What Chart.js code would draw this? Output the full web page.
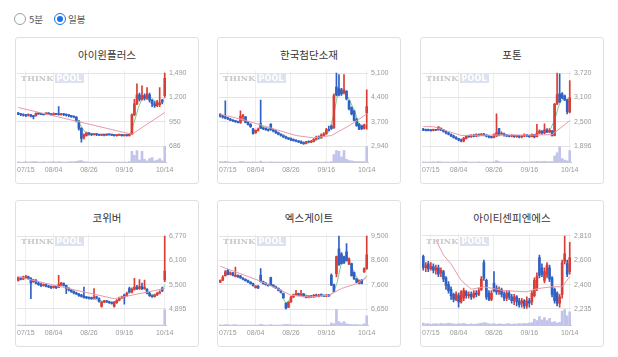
<!DOCTYPE html>
<html><head><meta charset="utf-8">
<script src="https://cdn.jsdelivr.net/npm/chart.js@4.4.1/dist/chart.umd.min.js"></script>
<style>
html,body{margin:0;padding:0;background:#fff;width:618px;height:357px;overflow:hidden;font-family:"Noto Sans CJK KR","Noto Sans",sans-serif;}
.radio{position:absolute;top:13px;width:12px;height:12px;box-sizing:border-box;border-radius:50%;border:1px solid #a0a0a0;background:#fff;}
.radio.on{border-color:#1a73e8;}
.radio.on::after{content:"";position:absolute;left:2px;top:2px;width:6px;height:6px;border-radius:50%;background:#1a73e8;}
.rlabel{position:absolute;top:12px;font-size:9.5px;color:#555;line-height:14px;}
.card{position:absolute;width:184px;height:147px;box-sizing:border-box;border:1px solid #e0e0e0;border-radius:3px;background:#fff;}
.title{position:absolute;left:0;right:0;top:10px;text-align:center;font-size:10.5px;color:#333;line-height:14px;}
.wm{position:absolute;left:5px;top:36px;font:bold 8px "DejaVu Serif",serif;letter-spacing:0.2px;line-height:9px;pointer-events:none;}
.wm .a{color:#c8c8c8}
.wm .b{color:#fff;background:#dce3ee;padding:0 2px;margin-left:1px;font-family:"DejaVu Sans",sans-serif}
.cv{position:absolute;left:0;top:30px;}
</style></head><body>
<div class="radio" style="left:14px"></div><div class="rlabel" style="left:29px">5분</div>
<div class="radio on" style="left:54px"></div><div class="rlabel" style="left:68px">일봉</div>
<div id="wrap"></div>
<script>
// ---- data ----
const titles = ['아이윈플러스','한국첨단소재','포톤','코위버','엑스게이트','아이티센피엔에스'];
const xTickLabels = ['07/15','08/04','08/26','09/16','10/14'];
const xTickIndex = [3,14,28,42,58];
const N = 59;

// rows: [open, close, high, low]
const c1Ohlc = [[1050,1035,1055,1030],[1040,1030,1045,1020],[1035,1025,1040,1015],[1030,1020,1035,1010],[1025,1030,1040,1015],[1030,1015,1035,1005],[1015,1010,1025,985],[1020,1045,1050,1015],[1045,1040,1055,1035],[1040,1035,1045,1030],
[1035,1030,1040,1025],[1040,1045,1050,1035],[1045,1040,1050,1030],[1040,1030,1045,1025],[1030,1040,1050,1025],[1040,1035,1045,1030],[1040,1030,1120,1025],[1030,1040,1045,1025],[1040,1030,1045,1020],[1030,1025,1040,1015],
[1025,1020,1030,1005],[1020,1010,1025,1000],[1010,1005,1015,995],[1005,960,1010,950],[960,880,965,860],[880,770,890,728],[780,810,820,760],[800,830,840,795],[830,815,835,805],[815,810,825,800],
[810,820,825,805],[820,810,825,800],[810,805,815,800],[805,810,815,800],[810,805,815,798],[805,815,820,800],[815,810,820,805],[810,805,815,800],[805,800,810,795],[800,805,810,795],
[805,810,815,800],[810,800,815,795],[800,805,810,795],[805,800,810,795],[800,815,825,795],[815,1030,1040,810],[1030,1150,1200,1020],[1150,1250,1370,1140],[1250,1200,1270,1180],[1200,1240,1350,1190],
[1240,1210,1260,1190],[1210,1260,1330,1200],[1250,1190,1270,1170],[1190,1150,1200,1120],[1150,1130,1180,1110],[1130,1170,1190,1120],[1140,1160,1330,1120],[1190,1170,1200,1150],[1240,1430,1490,1220]];
const c1Vol = [4,3,3,5,3,4,6,5,3,3,4,3,3,4,5,3,6,4,3,3,4,5,4,8,10,12,6,4,3,3,3,2,3,2,3,3,2,3,2,3,3,2,3,3,5,70,45,75,15,70,20,10,25,30,10,15,25,10,100];
const c1Ma = [[0,1110],[45,815],[58,1055]];
const c1Ma5 = [[21,1015],[23,995],[25,900],[27,830],[30,815],[35,810],[40,806],[44,808],[46,960],[48,1140],[50,1220],[52,1230],[54,1180],[56,1150],[58,1220]];
const c1Ticks = ['1,490','1,200','950','686'];

const c2Ohlc = [[3880,3820,3900,3790],[3830,3790,3850,3760],[3800,3760,4280,3740],[3770,3740,3790,3720],[3740,3700,3760,3690],[3710,3680,3720,3660],[3690,3660,3700,3640],[3660,3640,3680,3620],[3630,3820,3980,3610],[3810,3840,3880,3700],
[3800,3640,3810,3620],[3640,3580,3660,3560],[3580,3510,3600,3490],[3450,3310,3460,3290],[3330,3400,3420,3320],[3400,3440,3470,3380],[3600,3470,4300,3450],[3470,3450,3500,3420],[3460,3420,3480,3400],[3430,3400,3450,3380],
[3580,3420,3600,3400],[3420,3380,3440,3360],[3380,3330,3400,3310],[3340,3290,3350,3270],[3290,3250,3300,3230],[3250,3210,3270,3190],[3220,3170,3230,3150],[3180,3150,3200,3130],[3160,3120,3180,3100],[3130,3100,3150,3080],
[3110,3080,3130,3060],[3080,3060,3100,3040],[3070,3030,3090,3010],[3040,3010,3060,2990],[3020,3060,3080,3000],[3060,3050,3090,3030],[3050,3080,3110,3040],[3070,3140,3160,3060],[3140,3200,3230,3120],[3200,3180,3240,3160],
[3180,3260,3300,3170],[3250,3300,3340,3230],[3300,3420,3460,3290],[3420,3400,3530,3380],[3530,3450,3570,3430],[3480,4430,4480,3460],[4680,4450,5100,4420],[4640,4450,5050,4420],[4600,4480,4650,4440],[4500,4600,5050,4480],
[4560,4330,4580,4300],[4280,4040,4300,4010],[4080,3890,4100,3860],[3980,3700,4000,3680],[3740,3540,3760,3520],[3590,3440,3610,3420],[3540,3450,3560,3420],[3460,3560,3590,3440],[3920,4110,4600,3440]];
const c2Vol = [5,4,8,4,3,3,3,3,6,5,3,3,3,4,3,3,9,3,3,3,4,3,3,2,2,2,2,2,2,2,2,2,2,2,3,2,2,3,3,2,3,3,4,3,5,50,75,70,35,75,20,12,10,8,6,5,5,6,100];
const c2Ma = [[0,3880],[10,3700],[21,3450],[30,3250],[37,3180],[44,3250],[51,3540],[58,3890]];
const c2Ma5 = [[16,3520],[20,3450],[24,3290],[28,3150],[33,3040],[37,3080],[41,3230],[43,3390],[45,3900],[47,4530],[50,4450],[53,4000],[56,3490],[58,3600]];
const c2Ticks = ['5,100','4,400','3,700','2,940'];

const c3Ohlc = [[2320,2290,2340,2280],[2300,2280,2320,2270],[2310,2285,2320,2270],[2290,2280,2305,2265],[2285,2300,2320,2275],[2300,2290,2310,2280],[2300,2370,2380,2290],[2340,2300,2350,2280],[2300,2260,2310,2240],[2260,2220,2270,2200],
[2220,2190,2240,2170],[2190,2150,2200,2130],[2150,2110,2170,2090],[2110,2080,2130,2060],[2080,2050,2090,2020],[2050,2020,2070,1995],[2020,2090,2110,2000],[2080,2150,2160,2070],[2150,2130,2170,2110],[2130,2160,2180,2110],
[2160,2140,2190,2120],[2140,2180,2200,2130],[2180,2160,2200,2140],[2160,2190,2210,2150],[2190,2170,2210,2150],[2170,2140,2180,2120],[2140,2120,2160,2100],[2120,2110,2130,2090],[2110,2180,2200,2100],[2150,2230,2700,2130],
[2330,2170,2340,2150],[2190,2210,2250,2170],[2200,2160,2220,2140],[2160,2150,2180,2130],[2150,2140,2170,2120],[2140,2160,2180,2120],[2160,2130,2170,2110],[2130,2150,2170,2110],[2150,2120,2160,2100],[2120,2140,2160,2100],
[2140,2170,2200,2130],[2170,2150,2190,2130],[2150,2130,2170,2110],[2130,2180,2200,2120],[2180,2120,2190,2100],[2130,2220,2440,2120],[2220,2270,2300,2200],[2270,2220,2280,2190],[2220,2300,2450,2200],[2300,2250,2330,2230],
[2250,2290,2330,2230],[2270,2160,2290,2140],[2160,2940,2960,2150],[2950,3180,3720,2930],[3200,3000,3700,2980],[3200,3100,3230,3080],[3150,3050,3170,3030],[3050,2750,3070,2700],[2750,3100,3530,2720]];
const c3Vol = [4,3,3,3,4,3,6,4,3,3,3,3,3,3,3,4,5,5,3,3,3,3,4,3,3,3,3,3,4,12,6,3,3,3,3,3,3,3,3,3,4,3,3,5,4,8,6,5,8,5,6,5,40,60,100,25,15,10,75];
const c3Ma = [[0,2380],[4,2380],[15,2160],[30,2170],[45,2170],[51,2180],[58,2530]];
const c3Ma5 = [[50,2270],[52,2550],[54,2950],[56,3080],[58,2980]];
const c3Ticks = ['3,720','3,100','2,500','1,896'];

const c4Ohlc = [[5630,5700,5720,5610],[5690,5660,5720,5640],[5660,5700,5740,5650],[5700,5720,5760,5690],[5720,5680,5740,5660],[5680,5560,5700,5160],[5600,5640,5660,5580],[5640,5560,5650,5540],[5560,5520,5580,5500],[5530,5500,5560,5470],
[5500,5520,5540,5480],[5520,5480,5530,5460],[5480,5460,5500,5440],[5470,5440,5490,5420],[5450,5470,5490,5430],[5470,5440,5480,5420],[5450,5520,5760,5440],[5510,5560,5580,5500],[5550,5500,5570,5480],[5500,5420,5510,5290],
[5430,5380,5440,5360],[5380,5340,5400,5320],[5340,5300,5360,5280],[5310,5280,5330,5260],[5280,5240,5300,5220],[5250,5220,5270,5200],[5230,5190,5460,5170],[5200,5180,5220,5160],[5190,5170,5210,5150],[5180,5160,5200,5140],
[5170,5200,5420,5150],[5200,5180,5230,5160],[5160,5090,5180,5070],[4960,5070,5090,4940],[5080,5100,5120,5060],[5100,5080,5120,5060],[5080,5060,5100,5040],[5060,5040,5080,5020],[4960,5070,5090,4940],[5060,5120,5140,5040],
[5120,5180,5200,5100],[5180,5200,5230,5160],[5250,5200,5280,5020],[5240,5300,5330,5220],[5420,5330,5460,5300],[5330,5400,5440,5310],[5400,5460,5680,5380],[5460,5420,5500,5390],[5420,5470,5650,5400],[5470,5420,5560,5390],
[5420,5450,5640,5400],[5400,5300,5420,5280],[5300,5240,5320,5220],[5240,5210,5260,5190],[5210,5260,5280,5200],[5260,5300,5320,5240],[5300,5330,5360,5280],[5420,5360,5460,5340],[5640,5870,6770,5600]];
const c4Vol = [2,2,2,2,2,3,2,2,2,2,2,2,2,2,2,3,2,2,3,2,2,2,2,2,2,2,3,2,2,2,3,2,2,2,2,2,2,2,3,2,2,3,2,2,3,2,3,2,3,2,3,2,2,2,2,2,3,2,100];
const c4Ma = [[0,5720],[20,5420],[38,5160],[45,5250],[51,5330],[58,5420]];
const c4Ma5 = [[21,5340],[25,5230],[29,5170],[33,5100],[37,5060],[41,5170],[45,5370],[49,5440],[53,5260],[56,5300],[58,5500]];
const c4Ticks = ['6,770','6,100','5,500','4,895'];

const c5Ohlc = [[7700,7770,7790,7680],[7780,7900,7950,7760],[7950,8100,8150,7930],[8160,8000,8200,7980],[8000,8060,8100,7980],[8050,7960,8080,7940],[7920,7960,8290,7900],[7960,7900,7980,7880],[7940,7860,7960,7840],[7860,7810,7880,7790],
[7810,7760,7830,7740],[7760,7700,7780,7680],[7700,7640,7720,7620],[7640,7560,7660,7540],[7480,7540,7560,7460],[7540,7470,7560,7440],[7960,7720,8230,7700],[7720,7640,7740,7620],[7650,7600,7680,7580],[7600,7560,7620,7540],
[7880,7580,7900,7560],[7580,7520,7600,7500],[7520,7460,7540,7440],[7460,7380,7480,7360],[7380,7300,7400,7280],[7250,7080,7270,7060],[6880,6680,6900,6650],[6720,6920,6940,6700],[6930,7120,7150,6910],[7120,7200,7230,7090],
[7200,7250,7380,7180],[7250,7180,7270,7160],[7180,7240,7380,7160],[7240,7150,7260,7120],[7150,7100,7170,7080],[7100,7150,7170,7080],[7150,7120,7180,7100],[7120,7180,7220,7100],[7180,7140,7230,7120],[7140,7200,7220,7120],
[7200,7170,7240,7150],[7170,7150,7190,7130],[7150,7190,7210,7130],[7190,7160,7220,7140],[7960,7580,8020,7560],[7600,7340,7620,7320],[8030,8700,8720,7900],[9000,8380,9500,8350],[8800,8420,8850,8400],[8700,8450,8720,8430],
[8880,8540,9200,8520],[8400,8600,8650,8380],[8420,7950,8440,7930],[8080,7820,8100,7800],[7820,7700,7850,7680],[7650,7760,7780,7630],[7780,7650,7800,7630],[8100,8230,8260,8080],[8230,8760,9500,8200]];
const c5Vol = [4,3,5,6,3,4,5,3,3,3,3,3,3,3,3,3,8,4,3,3,6,3,3,3,3,5,8,5,4,3,4,3,4,3,3,3,3,3,3,3,3,3,3,3,15,10,100,25,15,25,10,8,6,5,5,4,4,10,60];
const c5Ma = [[0,8320],[15,7770],[24,7380],[28,7190],[35,7120],[43,7190],[48,7450],[54,7640],[58,7900]];
const c5Ma5 = [[21,7580],[24,7320],[26,6900],[29,7150],[32,7250],[36,7140],[40,7170],[43,7180],[46,7600],[48,8420],[50,8600],[52,8300],[54,7900],[56,7730],[58,7950]];
const c5Ticks = ['9,500','8,600','7,600','6,650'];

const c6Ohlc = [[2650,2560,2660,2540],[2560,2580,2600,2530],[2590,2550,2610,2530],[2550,2570,2600,2540],[2570,2540,2590,2520],[2540,2560,2580,2510],[2560,2510,2580,2490],[2520,2540,2560,2490],[2530,2470,2540,2450],[2480,2420,2490,2390],
[2430,2380,2450,2360],[2390,2340,2410,2310],[2350,2310,2360,2290],[2310,2350,2370,2300],[2340,2290,2360,2250],[2290,2370,2380,2280],[2320,2380,2400,2300],[2370,2340,2380,2320],[2340,2350,2370,2320],[2350,2330,2370,2310],
[2330,2360,2380,2320],[2360,2350,2380,2330],[2350,2380,2400,2340],[2390,2470,2490,2380],[2600,2480,2620,2460],[2460,2330,2470,2310],[2360,2310,2380,2300],[2310,2360,2380,2300],[2440,2380,2530,2370],[2400,2370,2420,2350],
[2370,2390,2410,2350],[2390,2350,2400,2330],[2350,2320,2370,2300],[2320,2360,2380,2300],[2360,2330,2380,2310],[2330,2300,2350,2280],[2300,2330,2350,2270],[2330,2290,2340,2260],[2300,2270,2320,2250],[2280,2300,2320,2250],
[2300,2260,2310,2240],[2260,2300,2330,2240],[2300,2280,2320,2250],[2290,2360,2380,2270],[2340,2460,2480,2330],[2400,2490,2520,2380],[2640,2500,2660,2480],[2560,2510,2590,2490],[2460,2530,2560,2440],[2500,2580,2600,2480],
[2560,2470,2580,2450],[2480,2350,2490,2330],[2390,2300,2400,2280],[2360,2280,2370,2260],[2280,2330,2350,2250],[2350,2600,2620,2320],[2610,2670,2810,2590],[2590,2510,2620,2490],[2530,2640,2760,2510]];
const c6Vol = [15,10,12,8,10,12,9,14,10,12,15,12,10,8,12,10,14,9,8,10,8,9,12,14,18,15,10,9,12,8,10,9,8,10,12,8,10,9,12,10,14,12,15,18,40,30,55,35,50,30,45,20,25,15,20,90,100,60,85];
const c6Ma = [[5,2780],[8,2660],[11,2590],[15,2460],[19,2390],[24,2410],[32,2380],[41,2370],[45,2395],[51,2410],[55,2410],[58,2490]];
const c6Ma5 = [];
const c6Ticks = ['2,810','2,600','2,400','2,235'];

// ---- layout (px) ----
const cardPos = [[15,37],[217,37],[420,37],[15,200],[217,200],[420,200]];
const RED = '#da3d35', BLUE = '#3060c4', PINK = '#e89aa6', GREEN = '#7cc88a', VOLC = '#c0c3ea';
const CW = 182, CH = 108, PAD_T = 3, PAD_B = 1.5, XAX_H = 12, YAX_W = 32;
const PLOT_H = CH - PAD_T - PAD_B - XAX_H;   // 91.5
const TOP_GAP = 2, PRICE_H = 73, VOL_H = 16;
const xLabels = Array.from({length: N}, (_, i) => { const k = xTickIndex.indexOf(i); return k >= 0 ? xTickLabels[k] : ''; });
const FONT = {size: 7, family: '"Liberation Sans", Arial, sans-serif'};

function sparse(pts) { const a = new Array(N).fill(null); pts.forEach(p => { a[p[0]] = p[1]; }); return a; }

function makeCard(k, ohlc, vol, ma, ma5, tickLabels) {
  if (ohlc.length !== N || vol.length !== N) throw new Error('length mismatch chart ' + (k+1) + ': ' + ohlc.length + '/' + vol.length);
  const card = document.createElement('div');
  card.className = 'card';
  card.style.left = cardPos[k][0] + 'px'; card.style.top = cardPos[k][1] + 'px';
  card.innerHTML = '<div class="title">' + titles[k] + '</div>';
  const cv = document.createElement('canvas');
  cv.className = 'cv'; cv.width = CW; cv.height = CH;
  card.appendChild(cv);
  const wm = document.createElement('div');
  wm.className = 'wm'; wm.innerHTML = '<span class="a">THINK</span><span class="b">POOL</span>';
  card.appendChild(wm);
  document.getElementById('wrap').appendChild(card);

  const top = parseFloat(tickLabels[0].replace(/,/g, ''));
  const bottom = parseFloat(tickLabels[3].replace(/,/g, ''));
  const unit = (top - bottom) / PRICE_H;
  const yMax = top + TOP_GAP * unit;
  const yMin = bottom - (PLOT_H - TOP_GAP - PRICE_H) * unit;
  const tickVals = [0, 1, 2, 3].map(j => bottom + j * (top - bottom) / 3);
  const labs = tickLabels.slice().reverse();
  const colors = ohlc.map(r => r[1] >= r[0] ? RED : BLUE);
  const maxV = Math.max.apply(null, vol);

  new Chart(cv, {
    data: {
      labels: xLabels,
      datasets: [
        {type: 'line', data: sparse(ma), borderColor: PINK, borderWidth: 1, pointRadius: 0, spanGaps: true, tension: 0, yAxisID: 'y', order: 0},
        {type: 'line', data: sparse(ma5), borderColor: GREEN, borderWidth: 1, pointRadius: 0, spanGaps: true, cubicInterpolationMode: 'monotone', yAxisID: 'y', order: 1.5},
        {type: 'bar', data: ohlc.map(r => [r[0], r[1]]), backgroundColor: colors, barThickness: 2, minBarLength: 1, grouped: false, yAxisID: 'y', order: 1},
        {type: 'bar', data: ohlc.map(r => [r[3], r[2]]), backgroundColor: colors, barThickness: 1, grouped: false, yAxisID: 'y', order: 2},
        {type: 'bar', data: vol, backgroundColor: VOLC, barThickness: 2, grouped: false, yAxisID: 'yv', order: 3}
      ]
    },
    options: {
      responsive: false, animation: false, devicePixelRatio: 1,
      layout: {padding: {left: 1, top: PAD_T, right: 0, bottom: PAD_B}},
      plugins: {legend: {display: false}, tooltip: {enabled: false}},
      scales: {
        x: {
          grid: {offset: false, drawTicks: false, color: c => xLabels[c.index] ? '#eeeeee' : 'rgba(0,0,0,0)'},
          border: {display: true, color: '#cccccc'},
          ticks: {autoSkip: false, maxRotation: 0, minRotation: 0, padding: 3, color: '#999', font: FONT, callback: (v, i) => xLabels[i]},
          afterFit: s => { s.height = XAX_H; s.paddingLeft = 0; s.paddingRight = 0; }
        },
        y: {
          position: 'right', min: yMin, max: yMax,
          afterBuildTicks: s => { s.ticks = tickVals.map(v => ({value: v})); },
          grid: {drawTicks: false, color: '#e4e4e4'},
          border: {display: false},
          ticks: {padding: 3, color: '#999', font: FONT, callback: (v, i) => labs[i]},
          afterFit: s => { s.width = YAX_W; s.paddingTop = 0; s.paddingBottom = 0; }
        },
        yv: {display: false, min: 0, max: maxV * PLOT_H / VOL_H}
      }
    }
  });
}

makeCard(0, c1Ohlc, c1Vol, c1Ma, c1Ma5, c1Ticks);
makeCard(1, c2Ohlc, c2Vol, c2Ma, c2Ma5, c2Ticks);
makeCard(2, c3Ohlc, c3Vol, c3Ma, c3Ma5, c3Ticks);
makeCard(3, c4Ohlc, c4Vol, c4Ma, c4Ma5, c4Ticks);
makeCard(4, c5Ohlc, c5Vol, c5Ma, c5Ma5, c5Ticks);
makeCard(5, c6Ohlc, c6Vol, c6Ma, c6Ma5, c6Ticks);
</script>
</body></html>
